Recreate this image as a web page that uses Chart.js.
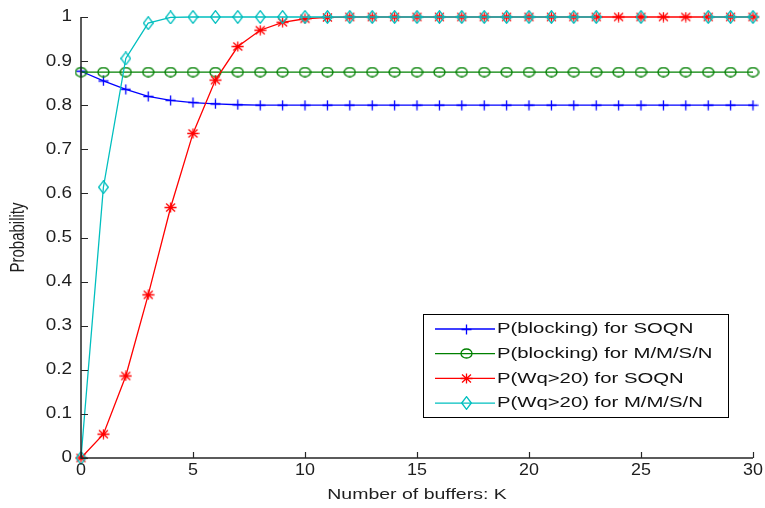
<!DOCTYPE html>
<html>
<head>
<meta charset="utf-8">
<script src="https://cdn.jsdelivr.net/npm/chart.js@4"></script>
<style>
  html, body { margin: 0; padding: 0; background: #fff; }
</style>
</head>
<body>
<canvas id="chart" width="765" height="508"></canvas>
<script>
"use strict";

// number of buffers K
const buffers = [0, 1, 2, 3, 4, 5, 6, 7, 8, 9, 10, 11, 12, 13, 14, 15, 16, 17, 18, 19, 20,
    21, 22, 23, 24, 25, 26, 27, 28, 29, 30];

const blockingSoqn = [0.877, 0.855, 0.836, 0.820, 0.811, 0.806, 0.803, 0.801, 0.800, 0.800, 0.800,
    0.800, 0.800, 0.800, 0.800, 0.800, 0.800, 0.800, 0.800, 0.800, 0.800,
    0.800, 0.800, 0.800, 0.800, 0.800, 0.800, 0.800, 0.800, 0.800, 0.800];

const blockingMmsn = [0.875, 0.875, 0.875, 0.875, 0.875, 0.875, 0.875, 0.875, 0.875, 0.875, 0.875,
    0.875, 0.875, 0.875, 0.875, 0.875, 0.875, 0.875, 0.875, 0.875, 0.875,
    0.875, 0.875, 0.875, 0.875, 0.875, 0.875, 0.875, 0.875, 0.875, 0.875];

const waitSoqn = [0, 0.054, 0.186, 0.370, 0.568, 0.736, 0.857, 0.933, 0.970, 0.988, 0.996,
    0.999, 1, 1, 1, 1, 1, 1, 1, 1, 1,
    1, 1, 1, 1, 1, 1, 1, 1, 1, 1];

// missing points at K = 24, 26, 27
const waitMmsn = [0, 0.614, 0.906, 0.986, 0.999, 1, 1, 1, 1, 1, 1,
    1, 1, 1, 1, 1, 1, 1, 1, 1, 1,
    1, 1, 1, null, 1, null, null, 1, 1, 1];

const seriesNames = [
    "P(blocking) for SOQN",
    "P(blocking) for M/M/S/N",
    "P(Wq>20) for SOQN",
    "P(Wq>20) for M/M/S/N"
];

const yTicks = [0, 0.1, 0.2, 0.3, 0.4, 0.5, 0.6, 0.7, 0.8, 0.9, 1];
const xTicks = [0, 5, 10, 15, 20, 25, 30];

const colors = ["#0000ff", "#008000", "#ff0000", "#00bfbf"];
const fontFamily = "'Liberation Sans', Arial, sans-serif";

// small marker bitmaps, a bit wider than tall like the old figure output
const makeMarker = (w, h, color, draw) => {
    const c = document.createElement("canvas");
    c.width = w;
    c.height = h;
    const g = c.getContext("2d");
    g.strokeStyle = color;
    g.lineWidth = 1.3;
    draw(g, w, h);
    return c;
};

const plusMarker = makeMarker(11, 11, colors[0], (g, w, h) => {
    g.beginPath();
    g.moveTo(w / 2, 0.5); g.lineTo(w / 2, h - 0.5);
    g.moveTo(0.5, h / 2); g.lineTo(w - 0.5, h / 2);
    g.stroke();
});

const circleMarker = makeMarker(13, 11, colors[1], (g, w, h) => {
    g.beginPath();
    g.ellipse(w / 2, h / 2, w / 2 - 1, h / 2 - 1, 0, 0, Math.PI * 2);
    g.stroke();
});

const starMarker = makeMarker(13, 11, colors[2], (g, w, h) => {
    g.beginPath();
    g.moveTo(w / 2, 0.5); g.lineTo(w / 2, h - 0.5);
    g.moveTo(0.5, h / 2); g.lineTo(w - 0.5, h / 2);
    g.moveTo(2, 1.5); g.lineTo(w - 2, h - 1.5);
    g.moveTo(w - 2, 1.5); g.lineTo(2, h - 1.5);
    g.stroke();
});

const diamondMarker = makeMarker(11, 14, colors[3], (g, w, h) => {
    g.beginPath();
    g.moveTo(w / 2, 0.7);
    g.lineTo(w - 0.7, h / 2);
    g.lineTo(w / 2, h - 0.7);
    g.lineTo(0.7, h / 2);
    g.closePath();
    g.stroke();
});

const markers = [plusMarker, circleMarker, starMarker, diamondMarker];
const seriesValues = [blockingSoqn, blockingMmsn, waitSoqn, waitMmsn];

const datasets = seriesValues.map((values, i) => ({
    label: seriesNames[i],
    data: buffers.map((k, j) => ({ x: k, y: values[j] })),
    borderColor: colors[i],
    backgroundColor: colors[i],
    borderWidth: 1.3,
    pointStyle: markers[i],
    pointRadius: 5,
    pointHoverRadius: 5,
    tension: 0,
    spanGaps: false,
    clip: false,
    order: 4 - i
}));

// draw text stretched horizontally
const stretchText = (ctx, text, x, y, sx, align, angle) => {
    ctx.save();
    ctx.translate(x, y);
    ctx.scale(sx, 1);
    if (angle) ctx.rotate(angle);
    ctx.textAlign = align;
    ctx.textBaseline = "middle";
    ctx.fillText(text, 0, 0);
    ctx.restore();
};

const axesPlugin = {
    id: "matlabAxes",
    afterDatasetsDraw(chart) {
        const ctx = chart.ctx;
        const area = chart.chartArea;
        const xs = chart.scales.x;
        const ys = chart.scales.y;

        ctx.save();
        ctx.strokeStyle = "#262626";
        ctx.lineWidth = 1.5;
        ctx.beginPath();
        ctx.moveTo(area.left, area.top);
        ctx.lineTo(area.left, area.bottom);
        ctx.lineTo(area.right, area.bottom);
        ctx.stroke();

        // inward tick marks
        ctx.lineWidth = 1.2;
        ctx.beginPath();
        yTicks.forEach((v) => {
            const py = Math.round(ys.getPixelForValue(v)) + 0.5;
            ctx.moveTo(area.left, py);
            ctx.lineTo(area.left + 7, py);
        });
        xTicks.forEach((v) => {
            const px = Math.round(xs.getPixelForValue(v)) + 0.5;
            ctx.moveTo(px, area.bottom);
            ctx.lineTo(px, area.bottom - 6);
        });
        ctx.stroke();

        ctx.fillStyle = "#1e1e1e";
        ctx.font = `16px ${fontFamily}`;
        yTicks.forEach((v) => {
            stretchText(ctx, String(v), area.left - 9, ys.getPixelForValue(v), 1.18, "right");
        });
        xTicks.forEach((v) => {
            stretchText(ctx, String(v), xs.getPixelForValue(v), area.bottom + 13, 1.12, "center");
        });

        ctx.font = `15px ${fontFamily}`;
        stretchText(ctx, "Number of buffers: K", (area.left + area.right) / 2, area.bottom + 37, 1.3, "center");
        stretchText(ctx, "Probability", 19, (area.top + area.bottom) / 2, 1.3, "center", -Math.PI / 2);

        // legend box
        const box = { left: 423.5, top: 314.5, width: 305, height: 103 };
        ctx.fillStyle = "#fff";
        ctx.fillRect(box.left, box.top, box.width, box.height);
        ctx.strokeStyle = "#000";
        ctx.lineWidth = 1;
        ctx.strokeRect(box.left, box.top, box.width, box.height);

        ctx.font = `14px ${fontFamily}`;
        chart.data.datasets.forEach((ds, i) => {
            const rowY = 329 + i * 24.7;
            ctx.strokeStyle = ds.borderColor;
            ctx.lineWidth = 1.3;
            ctx.beginPath();
            ctx.moveTo(435, rowY);
            ctx.lineTo(495, rowY);
            ctx.stroke();
            const m = ds.pointStyle;
            ctx.drawImage(m, Math.round(466 - m.width / 2), Math.round(rowY - m.height / 2));
            ctx.fillStyle = "#111";
            stretchText(ctx, ds.label, 497, rowY + 0.5, 1.45, "left");
        });
        ctx.restore();
    }
};

new Chart(document.getElementById("chart"), {
    type: "line",
    data: { datasets },
    options: {
        responsive: false,
        animation: false,
        events: [],
        layout: { padding: { top: 17, right: 12, left: 0, bottom: 0 } },
        plugins: {
            legend: { display: false },
            tooltip: { enabled: false }
        },
        scales: {
            x: {
                type: "linear",
                min: 0,
                max: 30,
                grid: { display: false },
                border: { display: false },
                ticks: { display: false },
                afterFit: (s) => { s.height = 50; }
            },
            y: {
                type: "linear",
                min: 0,
                max: 1,
                grid: { display: false },
                border: { display: false },
                ticks: { display: false },
                afterFit: (s) => { s.width = 81; }
            }
        }
    },
    plugins: [axesPlugin]
});
</script>
</body>
</html>
